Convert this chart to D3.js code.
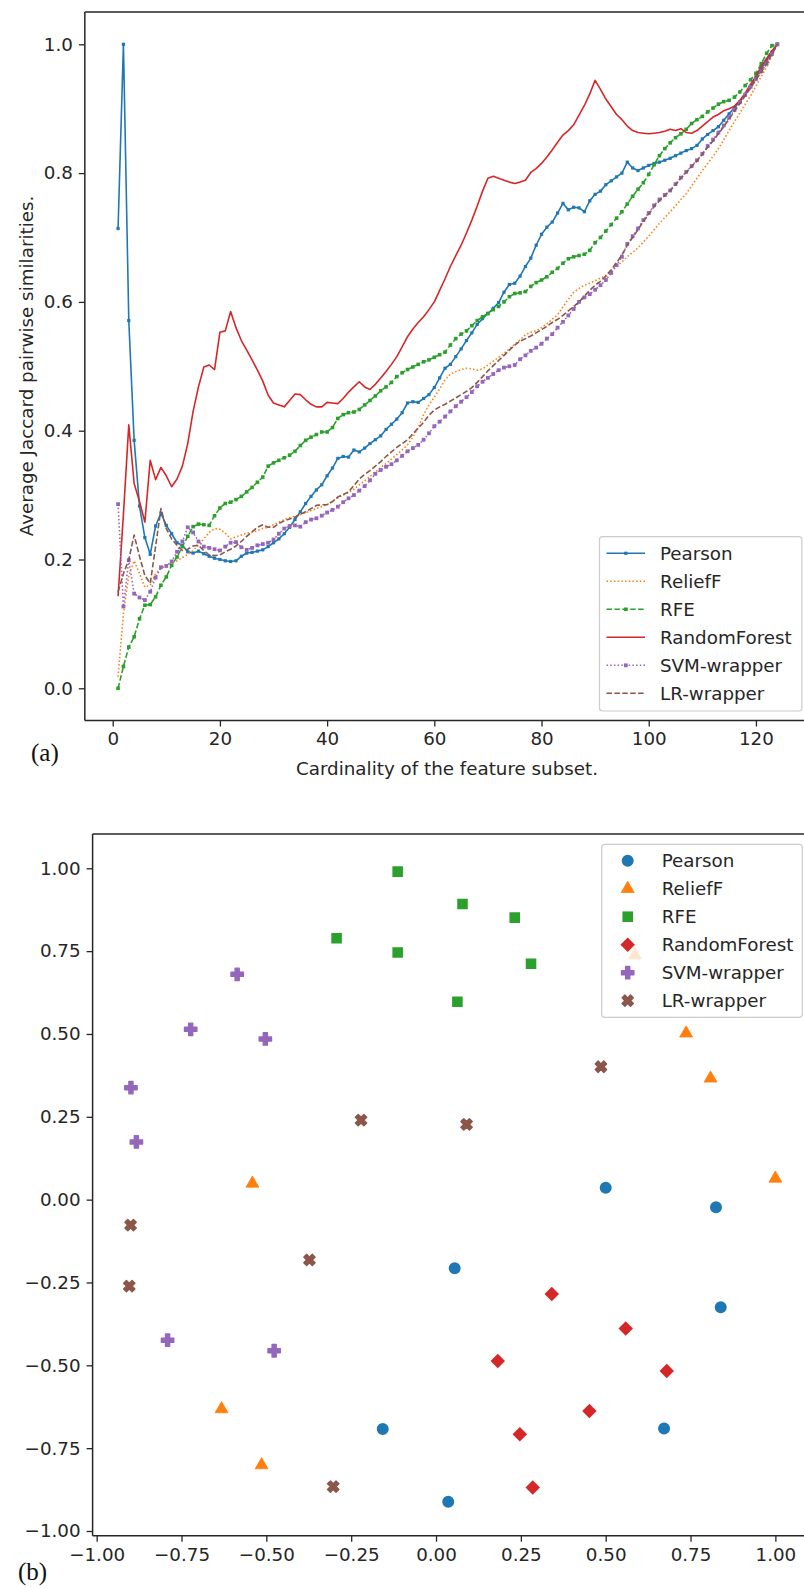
<!DOCTYPE html>
<html><head><meta charset="utf-8">
<script src="https://cdn.jsdelivr.net/npm/d3@7"></script>
<style>body{margin:0;background:#fff} svg{display:block} text{font-family:"DejaVu Sans",sans-serif}</style>
</head><body><svg id="c" width="804" height="1589"></svg>
<script>
// ---------- Data: panel (a) ----------
const cardinality = d3.range(1, 125);
const xTicksA = [0, 20, 40, 60, 80, 100, 120];
const yTicksA = [0.0, 0.2, 0.4, 0.6, 0.8, 1.0];

const pearson = [0.714,1.0,0.571,0.385,0.283,0.234,0.208,0.252,0.272,0.253,
0.240,0.226,0.222,0.212,0.210,0.213,0.209,0.205,0.202,0.200,
0.198,0.197,0.198,0.205,0.210,0.211,0.213,0.215,0.220,0.226,
0.232,0.240,0.250,0.262,0.274,0.287,0.298,0.308,0.316,0.330,
0.342,0.357,0.360,0.359,0.370,0.367,0.373,0.380,0.386,0.392,
0.402,0.410,0.418,0.428,0.443,0.445,0.444,0.450,0.456,0.467,
0.482,0.497,0.503,0.515,0.527,0.540,0.552,0.565,0.574,0.582,
0.590,0.599,0.615,0.627,0.629,0.640,0.655,0.668,0.688,0.705,
0.716,0.724,0.738,0.753,0.743,0.747,0.746,0.740,0.757,0.767,
0.772,0.782,0.788,0.794,0.800,0.817,0.808,0.804,0.808,0.812,
0.815,0.817,0.820,0.823,0.827,0.831,0.835,0.838,0.843,0.853,
0.860,0.866,0.872,0.882,0.892,0.902,0.911,0.921,0.935,0.949,
0.962,0.975,0.988,1.0];

const relieff = [0.018,0.116,0.175,0.198,0.178,0.157,0.160,0.178,0.186,0.190,
0.194,0.198,0.203,0.208,0.214,0.222,0.232,0.242,0.248,0.247,
0.241,0.232,0.235,0.238,0.241,0.242,0.245,0.248,0.250,0.254,
0.258,0.262,0.265,0.267,0.270,0.273,0.276,0.279,0.282,0.285,
0.290,0.296,0.300,0.304,0.309,0.316,0.322,0.329,0.336,0.343,
0.349,0.356,0.363,0.370,0.378,0.390,0.405,0.425,0.440,0.452,
0.465,0.479,0.488,0.492,0.495,0.497,0.496,0.494,0.496,0.502,
0.508,0.514,0.520,0.527,0.534,0.541,0.549,0.553,0.555,0.560,
0.566,0.573,0.580,0.592,0.604,0.615,0.621,0.626,0.629,0.633,
0.637,0.641,0.648,0.655,0.662,0.670,0.677,0.684,0.693,0.702,
0.712,0.722,0.731,0.740,0.749,0.759,0.768,0.780,0.792,0.804,
0.815,0.826,0.838,0.852,0.866,0.880,0.893,0.907,0.920,0.935,
0.950,0.965,0.982,1.0];

const rfe = [0.0,0.034,0.064,0.080,0.108,0.129,0.130,0.142,0.160,0.173,
0.191,0.204,0.220,0.236,0.251,0.255,0.254,0.253,0.268,0.280,
0.287,0.289,0.293,0.298,0.305,0.312,0.320,0.328,0.345,0.350,
0.354,0.358,0.362,0.368,0.377,0.385,0.390,0.394,0.398,0.398,
0.405,0.419,0.425,0.428,0.429,0.433,0.440,0.447,0.454,0.462,
0.468,0.475,0.484,0.490,0.495,0.499,0.503,0.507,0.510,0.514,
0.518,0.522,0.533,0.543,0.550,0.555,0.563,0.571,0.577,0.582,
0.588,0.593,0.600,0.608,0.613,0.614,0.616,0.624,0.630,0.634,
0.639,0.646,0.652,0.660,0.667,0.670,0.672,0.674,0.680,0.692,
0.700,0.710,0.720,0.730,0.740,0.752,0.764,0.775,0.785,0.798,
0.813,0.827,0.838,0.847,0.855,0.861,0.868,0.877,0.883,0.888,
0.895,0.901,0.907,0.911,0.913,0.918,0.926,0.936,0.945,0.955,
0.970,0.986,0.998,1.0];

const randomForest = [0.143,0.270,0.409,0.318,0.290,0.258,0.354,0.324,0.343,0.330,
0.313,0.325,0.345,0.380,0.430,0.468,0.499,0.502,0.495,0.553,
0.555,0.585,0.560,0.540,0.525,0.510,0.494,0.477,0.455,0.443,
0.440,0.437,0.447,0.457,0.456,0.448,0.441,0.437,0.437,0.444,
0.443,0.442,0.450,0.460,0.468,0.476,0.468,0.464,0.472,0.482,
0.492,0.503,0.515,0.530,0.546,0.558,0.568,0.577,0.588,0.600,
0.618,0.636,0.655,0.672,0.688,0.707,0.727,0.749,0.772,0.792,
0.795,0.792,0.789,0.786,0.784,0.786,0.789,0.801,0.807,0.815,
0.825,0.836,0.848,0.859,0.866,0.875,0.890,0.905,0.923,0.944,
0.930,0.915,0.903,0.891,0.883,0.873,0.866,0.863,0.862,0.861,
0.862,0.863,0.865,0.868,0.866,0.869,0.863,0.862,0.866,0.873,
0.880,0.887,0.891,0.897,0.900,0.904,0.913,0.924,0.938,0.950,
0.966,0.978,0.990,1.0];

const svmWrapper = [0.286,0.127,0.199,0.147,0.141,0.137,0.150,0.172,0.188,0.190,
0.197,0.212,0.228,0.250,0.242,0.228,0.220,0.218,0.216,0.214,
0.220,0.226,0.227,0.219,0.215,0.218,0.222,0.224,0.226,0.231,
0.240,0.248,0.252,0.253,0.251,0.258,0.262,0.264,0.268,0.273,
0.277,0.282,0.289,0.295,0.300,0.307,0.314,0.323,0.333,0.339,
0.344,0.348,0.354,0.361,0.368,0.373,0.378,0.386,0.396,0.407,
0.414,0.422,0.430,0.438,0.445,0.452,0.460,0.469,0.476,0.482,
0.488,0.494,0.498,0.500,0.502,0.511,0.517,0.524,0.529,0.535,
0.543,0.550,0.560,0.569,0.579,0.589,0.600,0.607,0.612,0.619,
0.626,0.634,0.645,0.657,0.670,0.690,0.702,0.714,0.727,0.738,
0.750,0.759,0.766,0.773,0.783,0.793,0.802,0.811,0.820,0.830,
0.842,0.852,0.863,0.874,0.886,0.898,0.910,0.922,0.934,0.946,
0.958,0.970,0.985,1.0];

const lrWrapper = [0.150,0.178,0.200,0.238,0.205,0.175,0.163,0.220,0.279,0.248,
0.232,0.222,0.214,0.216,0.221,0.222,0.214,0.207,0.206,0.207,
0.212,0.216,0.221,0.228,0.236,0.243,0.250,0.254,0.250,0.250,
0.256,0.260,0.263,0.266,0.270,0.274,0.279,0.284,0.285,0.285,
0.290,0.297,0.301,0.305,0.315,0.325,0.332,0.338,0.345,0.352,
0.360,0.367,0.374,0.380,0.386,0.395,0.404,0.413,0.424,0.432,
0.437,0.441,0.446,0.451,0.456,0.461,0.467,0.475,0.484,0.493,
0.501,0.509,0.517,0.525,0.533,0.539,0.543,0.547,0.552,0.557,
0.562,0.568,0.573,0.579,0.586,0.593,0.600,0.609,0.618,0.626,
0.632,0.640,0.650,0.661,0.673,0.688,0.700,0.712,0.725,0.736,
0.748,0.757,0.765,0.773,0.782,0.792,0.801,0.810,0.819,0.829,
0.840,0.850,0.861,0.872,0.884,0.896,0.908,0.920,0.932,0.945,
0.957,0.970,0.985,1.0];

// ---------- Data: panel (b) ----------
const xTicksB = [-1.0, -0.75, -0.5, -0.25, 0.0, 0.25, 0.5, 0.75, 1.0];
const yTicksB = [-1.0, -0.75, -0.5, -0.25, 0.0, 0.25, 0.5, 0.75, 1.0];
const ptsPearson = [[0.500,0.036],[0.825,-0.023],[0.055,-0.207],[0.839,-0.325],[0.672,-0.691],[0.036,-0.912],[-0.157,-0.692]];
const ptsReliefF = [[-0.541,0.049],[0.586,0.738],[0.737,0.502],[0.809,0.366],[1.000,0.064],[-0.632,-0.632],[-0.514,-0.801]];
const ptsRFE = [[-0.293,0.789],[-0.113,0.990],[-0.113,0.746],[0.078,0.892],[0.232,0.851],[0.280,0.712],[0.063,0.597]];
const ptsRandomForest = [[0.341,-0.285],[0.559,-0.389],[0.182,-0.487],[0.680,-0.517],[0.452,-0.638],[0.247,-0.708],[0.285,-0.869]];
const ptsSVM = [[-0.586,0.680],[-0.723,0.514],[-0.503,0.485],[-0.899,0.338],[-0.883,0.174],[-0.791,-0.424],[-0.477,-0.456]];
const ptsLR = [[-0.221,0.240],[0.486,0.401],[0.090,0.227],[-0.900,-0.077],[-0.904,-0.261],[-0.373,-0.182],[-0.303,-0.866]];

// ---------- Drawing ----------
const svg = d3.select("#c");
const ink = "#262626";
const fs = 18.3;

// ===== Panel (a) =====
const xA = d3.scaleLinear().domain([-5.2, 130.2]).range([84.83, 810.6]);
const yA = d3.scaleLinear().domain([-0.05, 1.05]).range([720.5, 12.1]);

svg.append("clipPath").attr("id", "clipA").append("rect")
  .attr("x", xA.range()[0]).attr("y", yA.range()[1])
  .attr("width", 804 - xA.range()[0]).attr("height", yA.range()[0] - yA.range()[1]);

const seriesA = [
  {name: "Pearson", data: pearson, color: "#1f77b4", dash: null, m: 3.2},
  {name: "ReliefF", data: relieff, color: "#ff7f0e", dash: "1.5,2.2", m: 0},
  {name: "RFE", data: rfe, color: "#2ca02c", dash: "5.5,2.4", m: 3.6},
  {name: "RandomForest", data: randomForest, color: "#d62728", dash: null, m: 0},
  {name: "SVM-wrapper", data: svmWrapper, color: "#9467bd", dash: "1.5,2.2", m: 3.8},
  {name: "LR-wrapper", data: lrWrapper, color: "#8c564b", dash: "5.5,2.4", m: 0}
];

const gA = svg.append("g").attr("clip-path", "url(#clipA)");
const lineA = d3.line().x((d, i) => xA(cardinality[i])).y(d => yA(d));
seriesA.forEach(s => {
  gA.append("path").datum(s.data).attr("d", lineA)
    .attr("fill", "none").attr("stroke", s.color).attr("stroke-width", 1.6)
    .attr("stroke-dasharray", s.dash).attr("stroke-linejoin", "round");
  if (s.m) {
    gA.append("g").selectAll("rect").data(s.data).join("rect")
      .attr("x", (d, i) => xA(cardinality[i]) - s.m / 2)
      .attr("y", d => yA(d) - s.m / 2)
      .attr("width", s.m).attr("height", s.m).attr("fill", s.color);
  }
});

// axes (a)
const axYA = svg.append("g").attr("transform", `translate(${xA.range()[0]},0)`)
  .call(d3.axisLeft(yA).tickValues(yTicksA).tickFormat(d3.format(".1f")).tickSize(6).tickPadding(6));
const axXA = svg.append("g").attr("transform", `translate(0,${yA.range()[0]})`)
  .call(d3.axisBottom(xA).tickValues(xTicksA).tickFormat(d3.format("d")).tickSize(6).tickPadding(6));
[axYA, axXA].forEach(a => {
  a.select(".domain").remove();
  a.selectAll("line").attr("stroke", ink).attr("stroke-width", 1.3);
  a.selectAll("text").attr("fill", ink).style("font-size", fs + "px").style("font-family", "DejaVu Sans");
});
// frame (a)
const frA = svg.append("g").attr("stroke", ink).attr("stroke-width", 1.5).attr("fill", "none");
frA.append("line").attr("x1", xA.range()[0]).attr("x2", xA.range()[0]).attr("y1", yA.range()[1]).attr("y2", yA.range()[0]);
frA.append("line").attr("x1", xA.range()[0]).attr("x2", 804).attr("y1", yA.range()[1]).attr("y2", yA.range()[1]);
frA.append("line").attr("x1", xA.range()[0]).attr("x2", 804).attr("y1", yA.range()[0]).attr("y2", yA.range()[0]);

svg.append("text").attr("transform", "translate(26,366) rotate(-90)")
  .attr("text-anchor", "middle").attr("dominant-baseline", "central")
  .attr("fill", ink).style("font-size", fs + "px").text("Average Jaccard pairwise similarities.");
svg.append("text").attr("x", 447).attr("y", 768)
  .attr("text-anchor", "middle").attr("dominant-baseline", "central")
  .attr("fill", ink).style("font-size", fs + "px").text("Cardinality of the feature subset.");
svg.append("text").attr("x", 31).attr("y", 761)
  .attr("fill", "#111").style("font-family", "Liberation Serif").style("font-size", "25px").text("(a)");

// legend (a)
const legA = svg.append("g");
legA.append("rect").attr("x", 599.5).attr("y", 536.7).attr("width", 202.3).attr("height", 174.3)
  .attr("rx", 3).attr("fill", "#fff").attr("fill-opacity", 0.8).attr("stroke", "#cccccc").attr("stroke-width", 1.2);
seriesA.forEach((s, i) => {
  const yy = 553.3 + i * 28;
  legA.append("line").attr("x1", 606.5).attr("x2", 645).attr("y1", yy).attr("y2", yy)
    .attr("stroke", s.color).attr("stroke-width", 1.6).attr("stroke-dasharray", s.dash);
  if (s.m) legA.append("rect").attr("x", 625.8 - s.m / 2).attr("y", yy - s.m / 2).attr("width", s.m).attr("height", s.m).attr("fill", s.color);
  legA.append("text").attr("x", 660).attr("y", yy).attr("dominant-baseline", "central")
    .attr("fill", ink).style("font-size", fs + "px").text(s.name);
});

// ===== Panel (b) =====
const xB = d3.scaleLinear().domain([-1.012, 1.1]).range([92.6, 92.6 + 2.112 * 339.35]);
const yB = d3.scaleLinear().domain([-1.0142, 1.1035]).range([1535.7, 834]);

const seriesB = [
  {name: "Pearson", pts: ptsPearson, color: "#1f77b4", sym: d3.symbolCircle, size: 113, rot: 0, sw: 0},
  {name: "ReliefF", pts: ptsReliefF, color: "#ff7f0e", sym: d3.symbolTriangle, size: 72, rot: 0, sw: 0.8},
  {name: "RFE", pts: ptsRFE, color: "#2ca02c", sym: d3.symbolSquare, size: 112, rot: 0, sw: 0},
  {name: "RandomForest", pts: ptsRandomForest, color: "#d62728", sym: d3.symbolSquare, size: 105, rot: 45, sw: 0},
  {name: "SVM-wrapper", pts: ptsSVM, color: "#9467bd", sym: d3.symbolCross, size: 85, rot: 0, sw: 1.4},
  {name: "LR-wrapper", pts: ptsLR, color: "#8c564b", sym: d3.symbolCross, size: 80, rot: 45, sw: 1.4}
];

svg.append("clipPath").attr("id", "clipB").append("rect")
  .attr("x", xB.range()[0]).attr("y", yB.range()[1])
  .attr("width", 804 - xB.range()[0]).attr("height", yB.range()[0] - yB.range()[1]);
const gB = svg.append("g").attr("clip-path", "url(#clipB)");
seriesB.forEach(s => {
  const p = d3.symbol().type(s.sym).size(s.size)();
  gB.append("g").selectAll("path").data(s.pts).join("path")
    .attr("d", p)
    .attr("transform", d => `translate(${xB(d[0])},${yB(d[1])}) rotate(${s.rot})`)
    .attr("fill", s.color).attr("stroke", s.color).attr("stroke-width", s.sw).attr("stroke-linejoin", "round");
});

const axYB = svg.append("g").attr("transform", `translate(${xB.range()[0]},0)`)
  .call(d3.axisLeft(yB).tickValues(yTicksB).tickFormat(d3.format(".2f")).tickSize(6).tickPadding(6));
const axXB = svg.append("g").attr("transform", `translate(0,${yB.range()[0]})`)
  .call(d3.axisBottom(xB).tickValues(xTicksB).tickFormat(d3.format(".2f")).tickSize(6).tickPadding(6));
[axYB, axXB].forEach(a => {
  a.select(".domain").remove();
  a.selectAll("line").attr("stroke", ink).attr("stroke-width", 1.3);
  a.selectAll("text").attr("fill", ink).style("font-size", fs + "px").style("font-family", "DejaVu Sans");
});
const frB = svg.append("g").attr("stroke", ink).attr("stroke-width", 1.5).attr("fill", "none");
frB.append("line").attr("x1", xB.range()[0]).attr("x2", xB.range()[0]).attr("y1", yB.range()[1]).attr("y2", yB.range()[0]);
frB.append("line").attr("x1", xB.range()[0]).attr("x2", 804).attr("y1", yB.range()[1]).attr("y2", yB.range()[1]);
frB.append("line").attr("x1", xB.range()[0]).attr("x2", 804).attr("y1", yB.range()[0]).attr("y2", yB.range()[0]);

svg.append("text").attr("x", 18).attr("y", 1580)
  .attr("fill", "#111").style("font-family", "Liberation Serif").style("font-size", "25px").text("(b)");

// legend (b)
const legB = svg.append("g");
legB.append("rect").attr("x", 601.7).attr("y", 844.3).attr("width", 200.6).attr("height", 173)
  .attr("rx", 3).attr("fill", "#fff").attr("fill-opacity", 0.8).attr("stroke", "#cccccc").attr("stroke-width", 1.2);
seriesB.forEach((s, i) => {
  const yy = 860.7 + i * 28;
  legB.append("path").attr("d", d3.symbol().type(s.sym).size(s.size)())
    .attr("transform", `translate(627.7,${yy}) rotate(${s.rot})`)
    .attr("fill", s.color).attr("stroke", s.color).attr("stroke-width", s.sw).attr("stroke-linejoin", "round");
  legB.append("text").attr("x", 661.7).attr("y", yy).attr("dominant-baseline", "central")
    .attr("fill", ink).style("font-size", fs + "px").text(s.name);
});
</script>
</body></html>
